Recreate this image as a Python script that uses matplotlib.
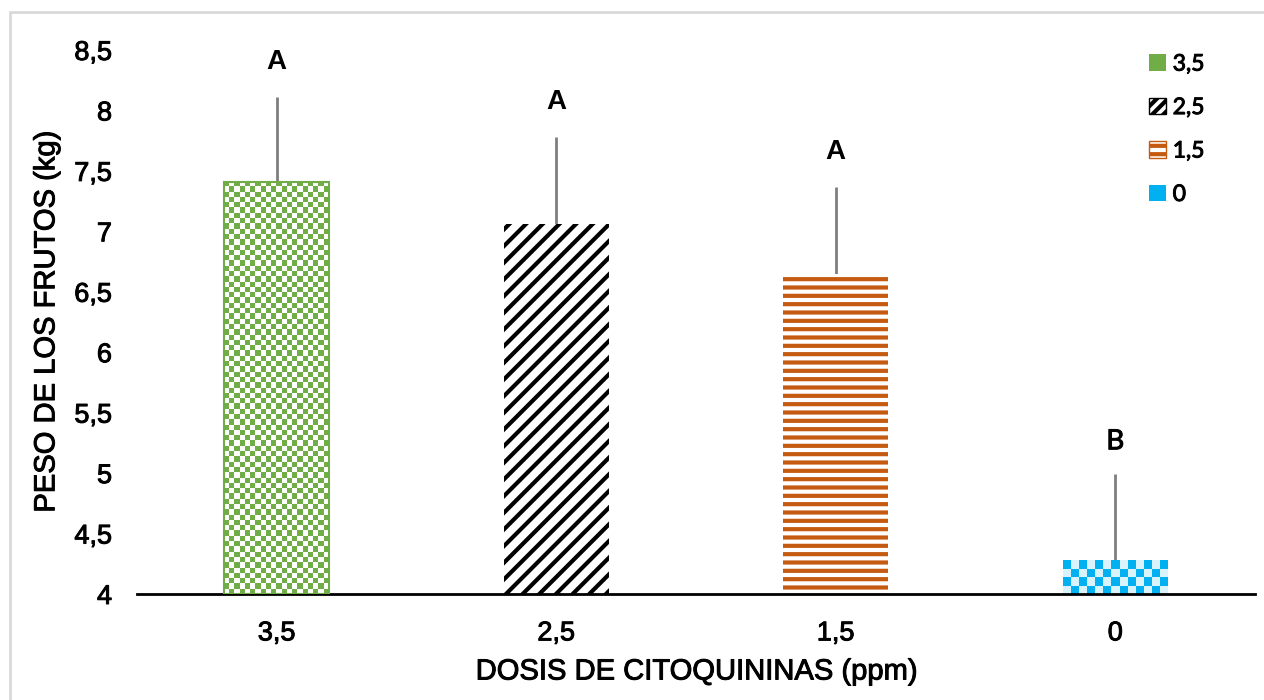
import numpy as np
import matplotlib
matplotlib.use("Agg")
import matplotlib.pyplot as plt
import matplotlib.patheffects as pe
from matplotlib.patches import Patch, Rectangle
from matplotlib.ticker import FuncFormatter

# data
dosis = ["3,5", "2,5", "1,5", "0"]
peso = [7.41, 7.06, 6.65, 4.28]
error = [0.70, 0.72, 0.72, 0.71]
letras = ["A", "A", "A", "B"]

verde = "#70ad47"
naranja = "#c55a11"
azul = "#00b0f0"

plt.rcParams["font.family"] = ["Liberation Sans", "DejaVu Sans"]
plt.rcParams["hatch.linewidth"] = 3.0

fig = plt.figure(figsize=(12.64, 7.0), dpi=100)
ax = fig.add_axes([137 / 1264, 1 - 594 / 700, (1255 - 137) / 1264, (594 - 50) / 700])

base = 4.0
x = np.arange(len(dosis))
ancho = 0.375

bars = ax.bar(x, np.array(peso) - base, bottom=base, width=ancho,
              color="white", edgecolor="none", zorder=2)
ax.set_xlim(-0.5, len(dosis) - 0.5)
ax.set_ylim(4, 8.5)

# black diagonal stripes
bars[1].set_hatch("//")
bars[1].set_edgecolor("black")
bars[1].set_linewidth(0)
# orange horizontal stripes
bars[2].set_hatch("--")
bars[2].set_edgecolor(naranja)
bars[2].set_linewidth(0)


def checker(bar, color, fondo, celda_px):
    # checkerboard image clipped to the bar
    x0, y0 = bar.get_x(), bar.get_y()
    x1, y1 = x0 + bar.get_width(), y0 + bar.get_height()
    p0 = ax.transData.transform((x0, y0))
    p1 = ax.transData.transform((x1, y1))
    nx = max(1, int(round((p1[0] - p0[0]) / celda_px)))
    ny = max(1, int(round((p1[1] - p0[1]) / celda_px)))
    grid = (np.add.outer(np.arange(ny), np.arange(nx)) % 2)
    cmap = matplotlib.colors.ListedColormap([fondo, color])
    im = ax.imshow(grid, extent=(x0, x1, y0, y1), cmap=cmap, aspect="auto",
                   interpolation="nearest", origin="lower", zorder=2.5)
    im.set_clip_path(bar)
    return im


checker(bars[0], verde, "white", 5.3)
checker(bars[3], azul, "#d9f3fd", 8.0)
bars[0].set_edgecolor(verde)
bars[0].set_linewidth(1.5)
bars[0].set_fill(False)
bars[0].set_zorder(3)

ax.errorbar(x, peso, yerr=[np.zeros(len(error)), error], fmt="none",
            ecolor="#7f7f7f", elinewidth=2, capsize=0, zorder=1)

grueso = [pe.withStroke(linewidth=0.7, foreground="black")]

for i, (v, e, l) in enumerate(zip(peso, error, letras)):
    if l == "A":
        ax.annotate(l, (x[i], v + e), xytext=(0, 20), textcoords="offset points",
                    ha="center", va="baseline", fontsize=20, fontweight="bold")
    else:
        ax.annotate(l, (x[i], v + e), xytext=(0, 18), textcoords="offset points",
                    ha="center", va="baseline", fontsize=20, family="Lato",
                    path_effects=grueso)

for s in ["top", "right", "left"]:
    ax.spines[s].set_visible(False)
ax.spines["bottom"].set_linewidth(2)
ax.spines["bottom"].set_color("black")

ax.set_yticks(np.arange(4, 8.51, 0.5))
ax.yaxis.set_major_formatter(FuncFormatter(lambda v, p: f"{v:g}".replace(".", ",")))
ax.set_xticks(x)
ax.set_xticklabels(dosis)
ax.tick_params(axis="y", length=0, pad=18, labelsize=19.5)
ax.tick_params(axis="x", length=0, pad=19, labelsize=19.5)

ax.set_xlabel("DOSIS DE CITOQUININAS (ppm)", fontsize=21, labelpad=8)
ax.set_ylabel("PESO DE LOS FRUTOS (kg)", fontsize=21, labelpad=10)

for t in ax.get_xticklabels() + ax.get_yticklabels() + [ax.xaxis.label, ax.yaxis.label]:
    t.set_path_effects(grueso)

handles = [
    Patch(facecolor=verde, edgecolor="none", label=dosis[0]),
    Patch(facecolor="white", edgecolor="black", hatch="///", label=dosis[1]),
    Patch(facecolor="white", edgecolor=naranja, hatch="--", label=dosis[2]),
    Patch(facecolor=azul, edgecolor="none", label=dosis[3]),
]
leg = ax.legend(handles=handles, loc="upper left", bbox_to_anchor=(1128 / 1264, 1 - 33 / 700),
                bbox_transform=fig.transFigure, frameon=False, handlelength=0.75,
                handleheight=0.75, handletextpad=0.3, labelspacing=0.98,
                prop={"family": "Lato", "size": 16.5})
for t in leg.get_texts():
    t.set_path_effects(grueso)

fig.patches.append(Rectangle((10 / 1264, -0.1), 1.2, 1 - 12 / 700 + 0.1,
                             transform=fig.transFigure, fill=False,
                             edgecolor="#d9d9d9", linewidth=2))

fig.savefig("out.png", dpi=100)
